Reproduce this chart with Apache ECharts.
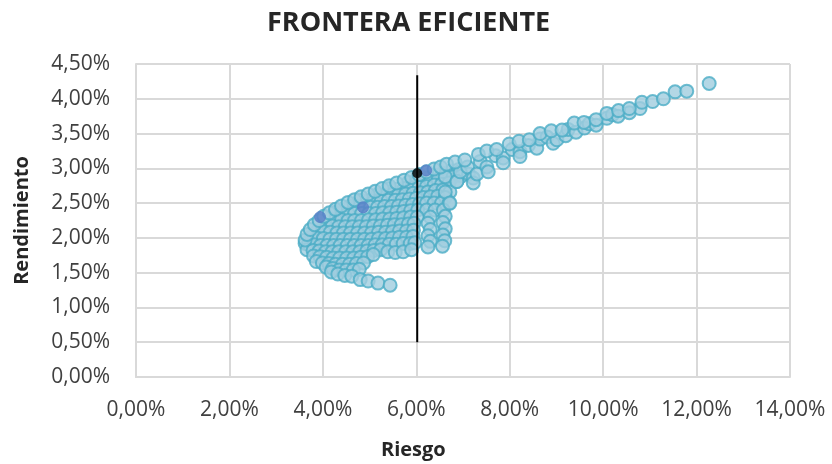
<!DOCTYPE html>
<html>
<head>
<meta charset="utf-8">
<script src="https://cdn.jsdelivr.net/npm/echarts@6/dist/echarts.min.js"></script>
<style>
  html, body { margin: 0; padding: 0; background: #ffffff; }
  #chart { width: 832px; height: 464px; }
</style>
</head>
<body>
<div id="chart"></div>
<script>
// Portfolio points: [riesgo %, rendimiento %]
const frontierPts = [
  [3.62,1.97],[3.66,2.05],[3.73,2.12],[3.82,2.19],[3.92,2.25],[4.02,2.31],[4.14,2.36],[4.27,2.41],
  [4.40,2.46],[4.54,2.51],[4.68,2.55],[4.82,2.59],[4.97,2.63],[5.12,2.67],[5.27,2.71],[5.42,2.75],
  [5.58,2.79],[5.74,2.83],[5.90,2.87],[6.06,2.91],[6.22,2.95],[6.38,2.99],[6.52,3.02],[6.65,3.06],
  [6.83,3.09],[7.04,3.12],[7.33,3.20],[7.51,3.25],[7.72,3.27],[7.99,3.35],[8.20,3.39],[8.42,3.41],
  [8.65,3.50],[8.89,3.54],[9.12,3.55],[9.38,3.65],[9.59,3.66],[9.85,3.70],[10.08,3.79],[10.33,3.83],
  [10.56,3.86],[10.83,3.95],[11.06,3.96],[11.29,4.00],[11.54,4.10],[11.79,4.11],[12.27,4.22]
];

const tailPts = [
  [6.62,2.88],[6.62,2.66],[6.72,2.50],[6.87,2.81],[6.94,2.95],[7.10,3.02],[7.22,2.86],[7.22,2.79],
  [7.30,2.92],[7.37,3.10],[7.51,3.02],[7.54,2.95],[7.70,3.18],[7.86,3.15],[7.86,3.08],[8.05,3.27],
  [8.22,3.24],[8.22,3.17],[8.40,3.33],[8.58,3.29],[8.65,3.42],[8.80,3.45],[8.93,3.36],[9.01,3.41],
  [9.20,3.47],[9.25,3.56],[9.42,3.52],[9.60,3.58],[9.70,3.64],[9.85,3.62],[10.08,3.72],[10.20,3.77],
  [10.32,3.75],[10.56,3.80],[10.79,3.86]
];

const cloudPts = [
  [6.20,2.86],[6.38,2.90],[6.56,2.93],[6.74,2.96],[6.90,2.98],
  [5.83,2.80],[5.99,2.79],[6.15,2.81],[6.31,2.82],[6.47,2.84],[6.63,2.86],[6.79,2.88],[6.97,2.89],[7.12,2.92],
  [5.42,2.71],[5.58,2.70],[5.74,2.71],[5.90,2.72],[6.06,2.73],[6.22,2.74],[6.38,2.76],[6.54,2.77],[6.70,2.79],[6.87,2.81],
  [5.17,2.62],[5.32,2.61],[5.47,2.62],[5.62,2.62],[5.77,2.63],[5.93,2.64],[6.09,2.65],[6.25,2.66],[6.41,2.68],[6.57,2.69],[6.72,2.66],
  [4.80,2.54],[4.95,2.53],[5.10,2.53],[5.25,2.53],[5.40,2.54],[5.55,2.54],[5.70,2.55],[5.85,2.56],[6.00,2.57],[6.15,2.58],[6.30,2.59],[6.46,2.60],[6.62,2.58],
  [4.59,2.46],[4.73,2.45],[4.87,2.44],[5.02,2.44],[5.17,2.44],[5.32,2.45],[5.47,2.45],[5.62,2.46],[5.77,2.47],[5.92,2.48],[6.07,2.49],[6.22,2.50],[6.38,2.50],[6.54,2.50],[6.70,2.50],
  [4.27,2.37],[4.40,2.36],[4.54,2.35],[4.68,2.35],[4.83,2.35],[4.98,2.35],[5.13,2.35],[5.28,2.36],[5.43,2.36],[5.58,2.37],[5.73,2.38],[5.88,2.39],[6.03,2.40],[6.22,2.40],[6.40,2.40],[6.58,2.40],
  [4.12,2.28],[4.26,2.27],[4.40,2.26],[4.54,2.25],[4.68,2.25],[4.83,2.25],[4.98,2.26],[5.13,2.26],[5.28,2.27],[5.43,2.27],[5.58,2.28],[5.73,2.29],[5.88,2.30],[6.02,2.30],[6.30,2.30],[6.62,2.31],
  [3.93,2.19],[4.06,2.18],[4.20,2.17],[4.34,2.16],[4.48,2.16],[4.63,2.16],[4.78,2.16],[4.93,2.16],[5.08,2.17],[5.23,2.17],[5.38,2.18],[5.53,2.19],[5.68,2.19],[5.83,2.20],[5.95,2.21],[6.25,2.21],[6.57,2.22],
  [3.88,2.10],[4.02,2.09],[4.16,2.08],[4.30,2.07],[4.44,2.07],[4.59,2.07],[4.74,2.07],[4.89,2.07],[5.04,2.07],[5.19,2.08],[5.34,2.08],[5.49,2.09],[5.64,2.10],[5.79,2.10],[5.94,2.11],[6.30,2.12],[6.62,2.13],
  [3.74,2.01],[3.87,2.00],[4.01,1.99],[4.15,1.98],[4.29,1.98],[4.44,1.98],[4.59,1.98],[4.74,1.98],[4.89,1.98],[5.04,1.98],[5.19,1.99],[5.34,1.99],[5.49,2.00],[5.64,2.01],[5.79,2.01],[5.93,2.02],[6.25,2.03],[6.57,2.04],
  [3.62,1.92],[3.69,1.91],[3.81,1.90],[3.95,1.89],[4.09,1.89],[4.23,1.89],[4.37,1.89],[4.52,1.89],[4.67,1.89],[4.82,1.89],[4.97,1.89],[5.12,1.90],[5.27,1.90],[5.42,1.91],[5.57,1.91],[5.72,1.92],[5.87,1.92],[5.97,1.93],[6.30,1.95],[6.61,1.96],
  [3.66,1.83],[3.79,1.82],[3.92,1.81],[4.06,1.80],[4.20,1.80],[4.34,1.80],[4.49,1.80],[4.64,1.80],[4.79,1.80],[4.94,1.81],[5.09,1.82],[5.24,1.83],[5.39,1.80],[5.55,1.79],[5.72,1.80],[5.90,1.83],[6.25,1.87],[6.56,1.88],
  [3.80,1.74],[3.94,1.73],[4.08,1.72],[4.22,1.71],[4.36,1.71],[4.51,1.71],[4.66,1.71],[4.81,1.72],[4.96,1.73],[5.08,1.76],
  [3.86,1.66],[3.99,1.64],[4.13,1.63],[4.27,1.62],[4.42,1.62],[4.57,1.62],[4.72,1.63],[4.87,1.64],
  [4.07,1.58],[4.21,1.56],[4.35,1.54],[4.50,1.54],[4.65,1.54],[4.78,1.55],
  [4.18,1.51],[4.32,1.48],[4.47,1.46],[4.62,1.45],[4.80,1.40],[4.97,1.38],[5.18,1.35],[5.44,1.32]
];

// Highlighted portfolios
const highlightPts = [[3.94,2.30],[4.86,2.44],[6.21,2.97]];
// Selected portfolio and its marker line
const selectedPt = [[6.02,2.93]];
const markerLine = [[6.02,0.50],[6.02,4.34]];

const xTicks = { min: 0, max: 14, interval: 2 };
const yTicks = { min: 0, max: 4.5, interval: 0.5 };

const pct = v => v.toFixed(2).replace('.', ',') + '%';

const chart = echarts.init(document.getElementById('chart'), null, { renderer: 'canvas' });

const allPts = cloudPts.concat(tailPts, frontierPts);

chart.setOption({
  animation: false,
  backgroundColor: '#ffffff',
  textStyle: { fontFamily: 'Open Sans' },
  title: {
    text: 'FRONTERA EFICIENTE',
    left: 262, top: 5,
    textStyle: { fontFamily: 'Open Sans', fontWeight: 'bold', fontSize: 27, color: '#262626' }
  },
  grid: { left: 136, right: 42, top: 64, bottom: 87, containLabel: false },
  xAxis: {
    type: 'value', min: xTicks.min, max: xTicks.max, interval: xTicks.interval,
    axisLine: { show: true, lineStyle: { color: '#d9d9d9', width: 2 } },
    axisTick: { show: false },
    splitLine: { show: true, lineStyle: { color: '#d9d9d9', width: 2 } },
    axisLabel: { formatter: pct, color: '#404040', fontSize: 21, margin: 23, fontFamily: 'Open Sans' }
  },
  yAxis: {
    type: 'value', min: yTicks.min, max: yTicks.max, interval: yTicks.interval,
    name: 'Rendimiento', nameLocation: 'middle', nameGap: 104, nameRotate: 90,
    nameTextStyle: { fontFamily: 'Open Sans', fontWeight: 'bold', fontSize: 20, color: '#262626' },
    axisLine: { show: true, lineStyle: { color: '#d9d9d9', width: 2 } },
    axisTick: { show: false },
    splitLine: { show: true, lineStyle: { color: '#d9d9d9', width: 2 } },
    axisLabel: { formatter: pct, color: '#404040', fontSize: 21, margin: 26, fontFamily: 'Open Sans' }
  },
  graphic: [{
    type: 'text', left: 381, top: 440,
    style: { text: 'Riesgo', font: 'bold 20px "Open Sans"', fill: '#262626' }
  }],
  series: [
    {
      type: 'scatter', data: allPts, symbolSize: 13, z: 2,
      itemStyle: { color: '#a0cddf', borderColor: '#4bacc6', borderWidth: 2 }
    },
    {
      type: 'scatter', data: highlightPts, symbolSize: 11, z: 3,
      itemStyle: { color: '#5a80c8', borderColor: '#5a80c8', borderWidth: 1 }
    },
    {
      type: 'line', data: markerLine, symbol: 'none', z: 4,
      lineStyle: { color: '#000000', width: 2 }
    },
    {
      type: 'scatter', data: selectedPt, symbolSize: 10, z: 5,
      itemStyle: { color: '#000000' }
    }
  ]
});
</script>
</body>
</html>
